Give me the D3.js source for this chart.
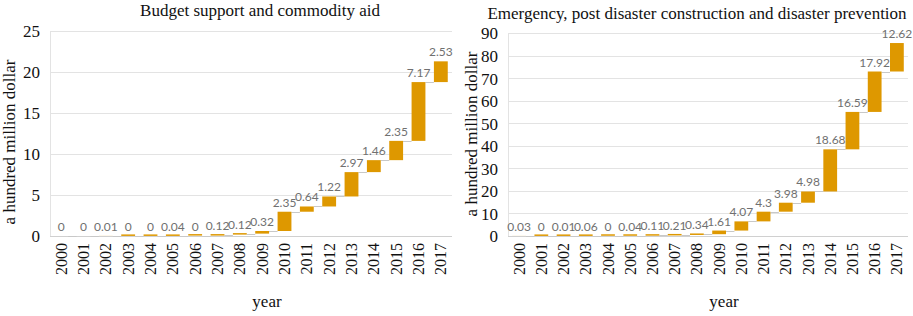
<!DOCTYPE html>
<html>
<head>
<meta charset="utf-8">
<script src="https://cdn.jsdelivr.net/npm/d3@7"></script>
<style>
  body { margin: 0; background: #fff; }
  svg { display: block; }
  .serif { font-family: "Liberation Serif", "Times New Roman", serif; fill: #111; }
</style>
</head>
<body>
<div id="chart"></div>
<script>
// data
var years = ["2000", "2001", "2002", "2003", "2004", "2005", "2006", "2007", "2008",
    "2009", "2010", "2011", "2012", "2013", "2014", "2015", "2016", "2017"];
var budgetValues = [0, 0, 0.01, 0, 0, 0.04, 0, 0.12, 0.12, 0.32, 2.35, 0.64, 1.22, 2.97, 1.46, 2.35, 7.17, 2.53];
var emergencyValues = [0.03, 0, 0.01, 0.06, 0, 0.04, 0.11, 0.21, 0.34, 1.61, 4.07, 4.3, 3.98, 4.98, 18.68, 16.59, 17.92, 12.62];
var budgetTicks = [0, 5, 10, 15, 20, 25];
var emergencyTicks = [0, 10, 20, 30, 40, 50, 60, 70, 80, 90];

var svg = d3.select("#chart").append("svg")
    .attr("width", 913)
    .attr("height", 316);

svg.append("rect").attr("width", 913).attr("height", 316).attr("fill", "#fff");

function waterfall(opts) {
    var x = d3.scaleBand().domain(years)
        .range([opts.left, opts.right])
        .paddingInner(0.38).paddingOuter(0.19);
    var y = d3.scaleLinear().domain([0, d3.max(opts.ticks)])
        .range([236, opts.top]);

    // cumulative start / end of each step
    var running = 0;
    var steps = opts.values.map(function (v, i) {
        var s = { year: years[i], value: v, start: running, end: running + v };
        running += v;
        return s;
    });

    var g = svg.append("g");

    // gridlines
    g.selectAll(".grid").data(opts.ticks).enter().append("line")
        .attr("x1", opts.left).attr("x2", opts.right)
        .attr("y1", function (d) { return Math.round(y(d)) + 0.5; })
        .attr("y2", function (d) { return Math.round(y(d)) + 0.5; })
        .attr("stroke", function (d) { return d === 0 ? "#d0d0d0" : "#e3e3e3"; })
        .attr("stroke-width", 1);

    // left plot border
    g.append("line")
        .attr("x1", opts.left + 0.5).attr("x2", opts.left + 0.5)
        .attr("y1", opts.top).attr("y2", y(0))
        .attr("stroke", "#e3e3e3");

    // y axis
    var yAxis = g.append("g")
        .attr("transform", "translate(" + (opts.left - 10) + ",0)")
        .call(d3.axisLeft(y).tickValues(opts.ticks).tickSize(0).tickPadding(0));
    yAxis.attr("font-family", null).attr("font-size", null);
    yAxis.select(".domain").remove();
    yAxis.selectAll("text")
        .attr("class", "serif")
        .style("font-size", "17px")
        .attr("fill", null)
        .attr("dy", "0.35em");

    // x axis
    var xAxis = g.append("g")
        .attr("transform", "translate(0," + y(0) + ")")
        .call(d3.axisBottom(x).tickSize(0).tickPadding(0));
    xAxis.attr("font-family", null).attr("font-size", null);
    xAxis.select(".domain").remove();
    xAxis.selectAll("text")
        .attr("class", "serif")
        .style("font-size", "16px")
        .attr("fill", null)
        .attr("transform", "rotate(-90)")
        .attr("text-anchor", "end")
        .attr("x", -7).attr("y", 0).attr("dy", "0.35em");

    // connectors
    g.selectAll(".conn").data(steps.slice(0, -1)).enter().append("line")
        .attr("x1", function (d) { return x(d.year) + x.bandwidth(); })
        .attr("x2", function (d, i) { return x(steps[i + 1].year); })
        .attr("y1", function (d) { return Math.round(y(d.end)) + 0.5; })
        .attr("y2", function (d) { return Math.round(y(d.end)) + 0.5; })
        .attr("stroke", "#c8c8c8").attr("stroke-width", 1);

    // bars
    g.selectAll(".bar").data(steps).enter().append("rect")
        .attr("x", function (d) { return x(d.year); })
        .attr("width", x.bandwidth())
        .attr("y", function (d) {
            var h = y(d.start) - y(d.end);
            if (d.start > 0 && h < 1.5) return y(d.start) - 1.5;
            return y(d.end);
        })
        .attr("height", function (d) {
            var h = y(d.start) - y(d.end);
            if (d.start > 0 && h < 1.5) return 1.5;
            return h;
        })
        .attr("fill", "#de9800");

    // value labels
    g.selectAll(".lbl").data(steps).enter().append("text")
        .attr("x", function (d) { return x(d.year) + x.bandwidth() / 2; })
        .attr("y", function (d) { return y(d.end) - 5; })
        .attr("text-anchor", "middle")
        .style("font-family", "Lato, 'Open Sans', sans-serif")
        .style("font-size", "12px")
        .attr("fill", "#707070")
        .text(function (d) { return String(d.value); });

    // title
    g.append("text")
        .attr("class", "serif")
        .attr("x", opts.titleX).attr("y", opts.titleY)
        .attr("text-anchor", "middle")
        .style("font-size", "17px")
        .text(opts.title);

    // axis titles
    g.append("text")
        .attr("class", "serif")
        .attr("x", (opts.left + opts.right) / 2 + 16).attr("y", 307)
        .attr("text-anchor", "middle")
        .style("font-size", "17px")
        .text("year");

    g.append("text")
        .attr("class", "serif")
        .attr("transform", "translate(" + opts.yTitleX + "," + opts.yTitleY + ") rotate(-90)")
        .attr("text-anchor", "middle")
        .style("font-size", "17px")
        .text("a hundred million dollar");
}

waterfall({
    values: budgetValues, ticks: budgetTicks,
    left: 50, right: 452, top: 31,
    title: "Budget support and commodity aid", titleX: 260, titleY: 16,
    yTitleX: 15, yTitleY: 142
});

waterfall({
    values: emergencyValues, ticks: emergencyTicks,
    left: 508, right: 908, top: 33,
    title: "Emergency, post disaster construction and disaster prevention", titleX: 697, titleY: 19,
    yTitleX: 477, yTitleY: 134
});
</script>
</body>
</html>
